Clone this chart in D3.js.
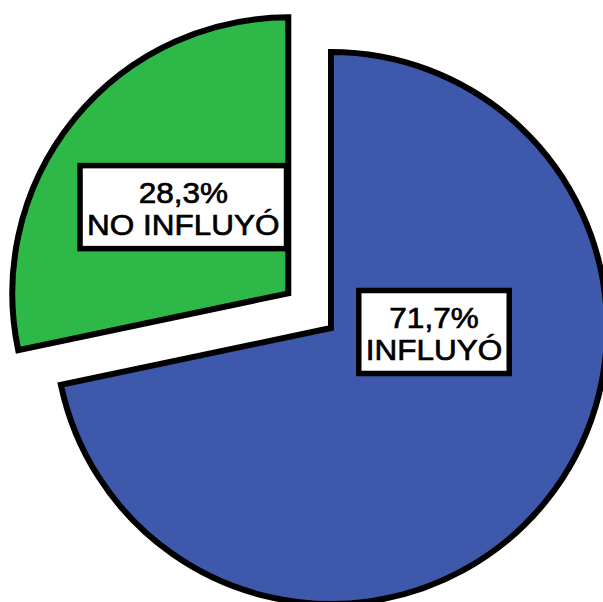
<!DOCTYPE html>
<head>
  <meta charset="utf-8">
  <script src="https://d3js.org/d3.v7.min.js"></script>
  <style>
    body { margin: 0; background: #fff; }
    svg { display: block; }
  </style>
</head>
<body>
<div id="chart"></div>
<script>
// chart data
var categories = ["INFLUYÓ", "NO INFLUYÓ"];
var values = [71.7, 28.3];
var colors = ["#3E58AC", "#2EB848"];

var width = 603, height = 602;
var radius = 276;
var center = [331, 328];
var explode = [0, 55];   // only the small slice is pulled out

var svg = d3.select("#chart").append("svg")
    .attr("width", width)
    .attr("height", height);

var pie = d3.pie().sort(null).value(function(d) { return d; });
var arc = d3.arc().innerRadius(0).outerRadius(radius);
var slices = pie(values);

// offset of each slice along its mid angle
function shift(d, i) {
    var a = (d.startAngle + d.endAngle) / 2;
    return [Math.sin(a) * explode[i], -Math.cos(a) * explode[i]];
}

var g = svg.selectAll(".slice")
    .data(slices)
    .enter()
    .append("g")
    .attr("class", "slice")
    .attr("transform", function(d, i) {
        var s = shift(d, i);
        return "translate(" + (center[0] + s[0]) + "," + (center[1] + s[1]) + ")";
    });

g.append("path")
    .attr("d", arc)
    .attr("fill", function(d, i) { return colors[i]; })
    .attr("stroke", "#000")
    .attr("stroke-width", 6)
    .attr("stroke-linejoin", "miter");

// label anchor: big slice label sits right of center, small one on its centroid
function labelPos(d, i) {
    if (d.endAngle - d.startAngle > Math.PI) return [103, 5];
    var a = (d.startAngle + d.endAngle) / 2;
    return [Math.sin(a) * radius * 0.49, -Math.cos(a) * radius * 0.49];
}

var labels = g.append("g")
    .attr("transform", function(d, i) {
        var p = labelPos(d, i);
        return "translate(" + p[0] + "," + p[1] + ")";
    });

var box = labels.append("rect")
    .attr("fill", "#fff")
    .attr("stroke", "#000")
    .attr("stroke-width", 5.5);

var txt = labels.append("text")
    .attr("transform", "scale(1.05,1)")
    .attr("text-anchor", "middle")
    .style("font-family", "'Liberation Sans', Arial, sans-serif")
    .style("font-size", "30px")
    .attr("fill", "#000")
    .attr("stroke", "#000")
    .attr("stroke-width", 0.7);

txt.append("tspan")
    .attr("x", 0)
    .attr("y", -5)
    .text(function(d) { return d3.format(".1f")(d.data).replace(".", ",") + "%"; });

txt.append("tspan")
    .attr("x", 0)
    .attr("y", 27)
    .text(function(d, i) { return categories[i]; });

labels.each(function() {
    var t = d3.select(this).select("text").node().getBBox();
    var sx = 1.05;
    var w = t.width * sx + 14, h = 83;
    d3.select(this).select("rect")
        .attr("x", -w / 2)
        .attr("y", -h / 2 - 1)
        .attr("width", w)
        .attr("height", h);
});
</script>
</body>
</html>
